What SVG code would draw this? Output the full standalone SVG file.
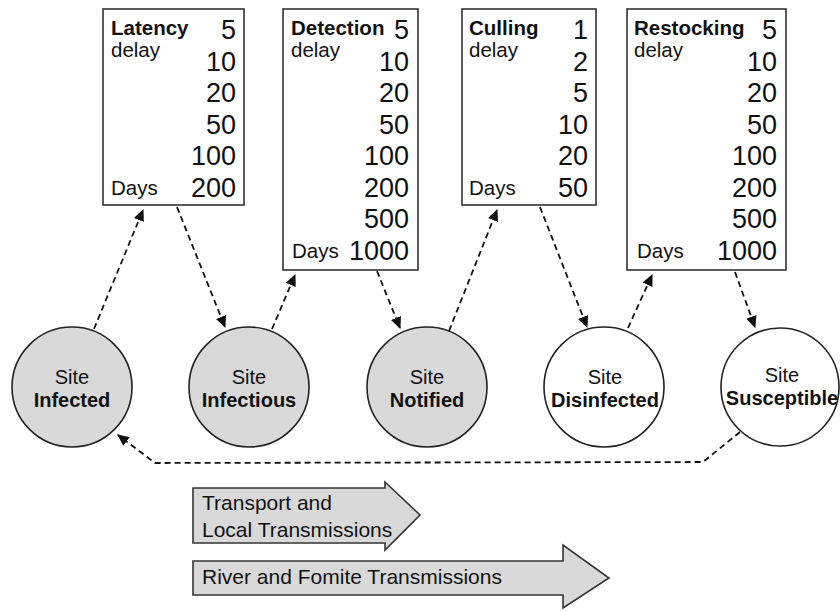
<svg xmlns="http://www.w3.org/2000/svg" width="840" height="611" viewBox="0 0 840 611">
<style>
text{font-family:"Liberation Sans",Arial,sans-serif;fill:#111}
.box{fill:#fff;stroke:#333;stroke-width:1.6}
.lbl{font-size:20.5px;font-weight:bold}
.sm{font-size:20.5px}
.num{font-size:27px;text-anchor:end}
.circ{stroke:#222;stroke-width:1.6}
.g{fill:#d9d9d9}
.w{fill:#fff}
.ct{font-size:20px;text-anchor:middle}
.cb{font-size:20px;font-weight:bold;text-anchor:middle}
.con{fill:none;stroke:#111;stroke-width:1.8;stroke-dasharray:6 4;marker-end:url(#ah)}
.blk{fill:#d9d9d9;stroke:#333;stroke-width:1.6}
.at{font-size:21px}
</style>
<defs>
<marker id="ah" viewBox="0 0 10 10" refX="9" refY="5" markerWidth="12" markerHeight="12" markerUnits="userSpaceOnUse" orient="auto">
<path d="M0,0.5 L10,5 L0,9.5 Z" fill="#111"/>
</marker>
</defs>
<g id="box-latency">
<rect class="box" x="103" y="9" width="141" height="196"/>
<text class="lbl" x="111" y="35">Latency</text>
<text class="sm" x="111" y="57">delay</text>
<text class="sm" x="111" y="195">Days</text>
<text class="num" x="236" y="39">5</text>
<text class="num" x="236" y="71">10</text>
<text class="num" x="236" y="102">20</text>
<text class="num" x="236" y="134">50</text>
<text class="num" x="236" y="165">100</text>
<text class="num" x="236" y="197">200</text>
</g>
<g id="box-detection">
<rect class="box" x="283" y="9" width="135" height="261"/>
<text class="lbl" x="291" y="35">Detection</text>
<text class="sm" x="291" y="57">delay</text>
<text class="sm" x="292" y="258">Days</text>
<text class="num" x="409" y="39">5</text>
<text class="num" x="409" y="71">10</text>
<text class="num" x="409" y="102">20</text>
<text class="num" x="409" y="134">50</text>
<text class="num" x="409" y="165">100</text>
<text class="num" x="409" y="197">200</text>
<text class="num" x="409" y="228">500</text>
<text class="num" x="409" y="260">1000</text>
</g>
<g id="box-culling">
<rect class="box" x="462" y="9" width="134" height="196"/>
<text class="lbl" x="469" y="35">Culling</text>
<text class="sm" x="469" y="57">delay</text>
<text class="sm" x="469" y="195">Days</text>
<text class="num" x="588" y="39">1</text>
<text class="num" x="588" y="71">2</text>
<text class="num" x="588" y="102">5</text>
<text class="num" x="588" y="134">10</text>
<text class="num" x="588" y="165">20</text>
<text class="num" x="588" y="197">50</text>
</g>
<g id="box-restocking">
<rect class="box" x="627" y="9" width="159" height="261"/>
<text class="lbl" x="634" y="35">Restocking</text>
<text class="sm" x="634" y="57">delay</text>
<text class="sm" x="637" y="258">Days</text>
<text class="num" x="777" y="39">5</text>
<text class="num" x="777" y="71">10</text>
<text class="num" x="777" y="102">20</text>
<text class="num" x="777" y="134">50</text>
<text class="num" x="777" y="165">100</text>
<text class="num" x="777" y="197">200</text>
<text class="num" x="777" y="228">500</text>
<text class="num" x="777" y="260">1000</text>
</g>
<g id="site-infected">
<circle class="circ g" cx="72" cy="387" r="60"/>
<text class="ct" x="72" y="384">Site</text>
<text class="cb" x="72" y="407">Infected</text>
</g>
<g id="site-infectious">
<circle class="circ g" cx="249" cy="387" r="60"/>
<text class="ct" x="249" y="384">Site</text>
<text class="cb" x="249" y="407">Infectious</text>
</g>
<g id="site-notified">
<circle class="circ g" cx="427" cy="387" r="60"/>
<text class="ct" x="427" y="384">Site</text>
<text class="cb" x="427" y="407">Notified</text>
</g>
<g id="site-disinfected">
<circle class="circ w" cx="604" cy="387" r="60"/>
<text class="ct" x="605" y="384">Site</text>
<text class="cb" x="605" y="407">Disinfected</text>
</g>
<g id="site-susceptible">
<circle class="circ w" cx="780" cy="387" r="59"/>
<text class="ct" x="782" y="382">Site</text>
<text class="cb" x="782" y="405">Susceptible</text>
</g>
<g id="connectors">
<path class="con" d="M94,329 L143,210"/>
<path class="con" d="M177,207 L225,327"/>
<path class="con" d="M272,329 L295,275"/>
<path class="con" d="M377,271 L400,328"/>
<path class="con" d="M449,331 L497,210"/>
<path class="con" d="M540,207 L587,327"/>
<path class="con" d="M628,328 L652,275"/>
<path class="con" d="M735,272 L755,327"/>
<path class="con" d="M740,432 L703,462 L155,463 L118,435"/>
</g>
<g id="arrow-transport">
<path class="blk" d="M193,488 L385,488 L385,482 L420,515 L385,550 L385,543 L193,543 Z"/>
<text class="at" x="202" y="510">Transport and</text>
<text class="at" x="202" y="537">Local Transmissions</text>
</g>
<g id="arrow-river">
<path class="blk" d="M193,561 L563,561 L563,545 L609,578 L563,608 L563,595 L193,595 Z"/>
<text class="at" x="202" y="584">River and Fomite Transmissions</text>
</g>
</svg>
